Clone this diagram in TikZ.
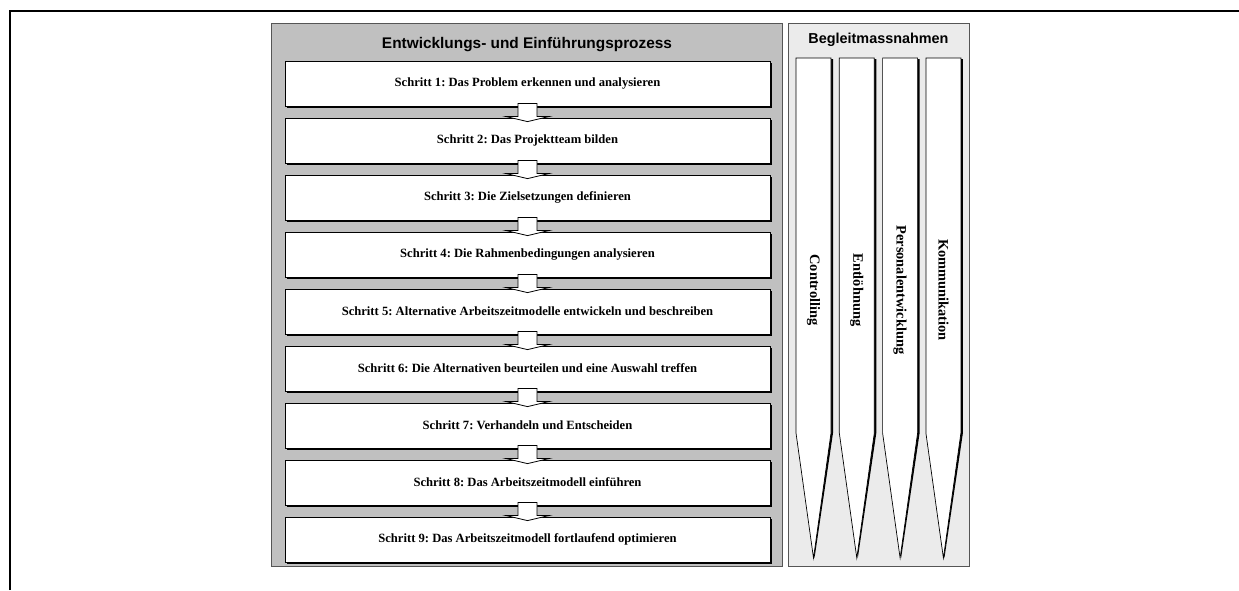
\documentclass[tikz,border=0pt]{standalone}
\usepackage{fontspec}
\setmainfont{Liberation Serif}
\setsansfont{Liberation Sans}
\usetikzlibrary{calc,shadows}
\definecolor{panelA}{HTML}{C0C0C0}
\definecolor{panelB}{HTML}{EBEBEB}
\definecolor{edgegray}{HTML}{555555}
\frenchspacing
\tikzset{
  stepbox/.style={draw=black, fill=white, line width=0.8pt, minimum width=485pt, minimum height=45pt, inner sep=0pt,
    font=\bfseries\fontsize{12.6}{14}\selectfont,
    drop shadow={shadow xshift=2pt, shadow yshift=-2pt, fill=black, opacity=1}},
  paneltitle/.style={font=\sffamily\bfseries, inner sep=0pt},
  blockarrow/.style={draw=black, fill=white, line width=0.8pt, line join=miter},
  stake/.style={draw=black, fill=white, line width=0.7pt},
  stakeshadow/.style={fill=black},
  stakelabel/.style={rotate=-90, font=\bfseries\fontsize{14.4}{16}\selectfont, inner sep=0pt},
  frameline/.style={line width=2pt}
}
\begin{document}
\begin{tikzpicture}[x=1pt,y=-1pt]
\useasboundingbox (0,0) rectangle (1239,590);
\fill[white] (0,0) rectangle (1239,590);
% frame
\draw[frameline] (10,590) -- (10,11) -- (1239,11);
% left panel
\draw[edgegray, fill=panelA, line width=0.8pt] (271,23) rectangle (782,566);
\node[paneltitle, font=\sffamily\bfseries\fontsize{15.4}{17}\selectfont] (t1) at (527,45) {Entwicklungs- und Einführungsprozess};
% right panel
\draw[edgegray, fill=panelB, line width=0.8pt] (788,23) rectangle (969,566);
\node[paneltitle, font=\sffamily\bfseries\fontsize{14.4}{16}\selectfont] (t2) at (878.5,40) {Begleitmassnahmen};
% steps
\foreach \i/\txt in {
  1/{Schritt 1: Das Problem erkennen und analysieren},
  2/{Schritt 2: Das Projektteam bilden},
  3/{Schritt 3: Die Zielsetzungen definieren},
  4/{Schritt 4: Die Rahmenbedingungen analysieren},
  5/{Schritt 5: Alternative Arbeitszeitmodelle entwickeln und beschreiben},
  6/{Schritt 6: Die Alternativen beurteilen und eine Auswahl treffen},
  7/{Schritt 7: Verhandeln und Entscheiden},
  8/{Schritt 8: Das Arbeitszeitmodell einführen},
  9/{Schritt 9: Das Arbeitszeitmodell fortlaufend optimieren}}{
  \node[stepbox] (s\i) at (527.5,{83.5+57*(\i-1)}) {\txt};
}
% block arrows between steps
\foreach \i [evaluate=\i as \j using int(\i+1)] in {1,...,8}{
  \draw[blockarrow] ($(s\i.south)+(-9.5,-3)$) -- ($(s\i.south)+(9.5,-3)$) -- ($(s\i.south)+(9.5,10)$)
    -- ($(s\i.south)+(22,10)$) -- ($(s\j.north)+(0,4)$) -- ($(s\i.south)+(-22,10)$)
    -- ($(s\i.south)+(-9.5,10)$) -- cycle;
}
% stakes
\foreach \k/\xa/\lab in {1/796/Controlling, 2/839.3/Entlöhnung, 3/882.6/Personalentwicklung, 4/925.9/Kommunikation}{
  \pgfmathsetmacro{\xb}{\xa+35}
  \pgfmathsetmacro{\xc}{\xa+17.5}
  \fill[stakeshadow] (\xa+2,59) -- (\xb+2,59) -- (\xb+2,433) -- (\xc+1,558) -- (\xa+2,433) -- cycle;
  \draw[stake] (\xa,58) -- (\xb,58) -- (\xb,433) -- (\xc,558) -- (\xa,433) -- cycle;
  \node[stakelabel] (p\k) at (\xc,290) {\lab};
}
\end{tikzpicture}
\end{document}
